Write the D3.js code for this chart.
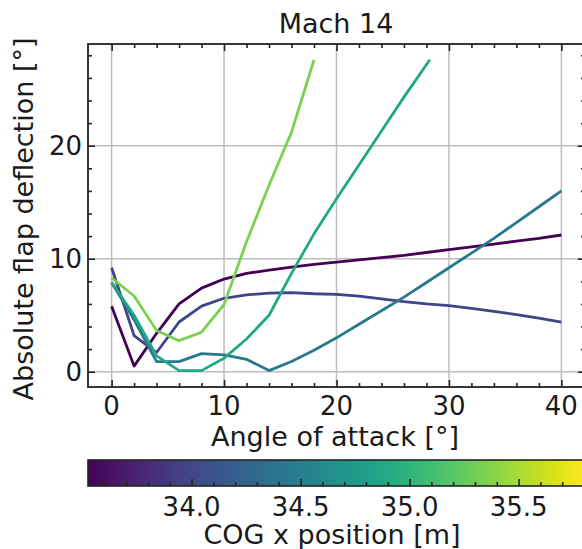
<!DOCTYPE html>
<html lang="en">
<head>
    <meta charset="utf-8" />
    <title>Mach 14</title>
    <script src="https://cdn.jsdelivr.net/npm/d3@7"></script>
    <style>
        body { margin: 0; background: #fff; }
        text { font-family: "DejaVu Sans", sans-serif; fill: #1a1a1a; }
        .grid line { stroke: #bdbdbd; stroke-width: 1.5px; }
        .series path { fill: none; stroke-width: 2.8px; stroke-linejoin: round; }
    </style>
</head>
<body>
<script>
    // data
    var cog = [33.525, 33.98, 34.435, 34.89, 35.345];
    var aoa1 = [0, 2, 4, 6, 8, 10, 12, 14, 16, 18, 20, 22, 24, 26, 28, 30, 32, 34, 36, 38, 40];
    var defl1 = [5.8, 0.5, 3.4, 6.0, 7.4, 8.2, 8.7, 9.0, 9.25, 9.5, 9.7, 9.9, 10.1, 10.3, 10.55, 10.8, 11.05, 11.3, 11.55, 11.8, 12.1];
    var aoa2 = aoa1;
    var defl2 = [9.2, 3.2, 1.7, 4.4, 5.8, 6.5, 6.8, 6.95, 7.0, 6.9, 6.85, 6.7, 6.45, 6.2, 6.0, 5.85, 5.6, 5.35, 5.05, 4.75, 4.4];
    var aoa3 = aoa1;
    var defl3 = [7.9, 4.6, 0.9, 0.9, 1.6, 1.5, 1.1, 0.1, 0.9, 1.9, 3.0, 4.2, 5.4, 6.6, 7.9, 9.2, 10.5, 11.8, 13.2, 14.6, 16.0];
    var aoa4 = [0, 2, 4, 6, 8, 10, 12, 14, 16, 18, 20, 22, 24, 26, 28.3];
    var defl4 = [7.9, 5.0, 1.4, 0.1, 0.1, 1.2, 2.9, 5.0, 8.7, 12.2, 15.3, 18.3, 21.3, 24.3, 27.6];
    var aoa5 = [0, 2, 4, 6, 8, 10, 12, 14, 16, 18];
    var defl5 = [8.3, 6.7, 3.65, 2.75, 3.5, 5.95, 11.5, 16.5, 21.2, 27.6];

    var xTicks = [0, 10, 20, 30, 40];
    var yTicks = [0, 10, 20];
    var cbTicks = [34.0, 34.5, 35.0, 35.5];
    var cbDomain = [33.525, 35.8];

    var series = [
        { aoa: aoa1, defl: defl1, cog: cog[0] },
        { aoa: aoa2, defl: defl2, cog: cog[1] },
        { aoa: aoa3, defl: defl3, cog: cog[2] },
        { aoa: aoa4, defl: defl4, cog: cog[3] },
        { aoa: aoa5, defl: defl5, cog: cog[4] }
    ];

    var width = 582, height = 549;
    var svg = d3.select("body").append("svg")
        .attr("width", width)
        .attr("height", height);

    // plot area (names avoid window.top)
    var pL = 88, pR = 585, pT = 44, pB = 387;
    var x = d3.scaleLinear().domain([-2.1, 42.1]).range([pL, pR]);
    var y = d3.scaleLinear().domain([-1.35, 29.0]).range([pB, pT]);
    var color = d3.scaleSequential(d3.interpolateViridis).domain(cbDomain);

    // grid
    var grid = svg.append("g").attr("class", "grid");
    grid.selectAll(".gx").data(xTicks).enter().append("line")
        .attr("x1", function (d) { return x(d); }).attr("x2", function (d) { return x(d); })
        .attr("y1", pT).attr("y2", pB);
    grid.selectAll(".gy").data(yTicks).enter().append("line")
        .attr("y1", function (d) { return y(d); }).attr("y2", function (d) { return y(d); })
        .attr("x1", pL).attr("x2", pR);

    // lines
    var line = d3.line()
        .x(function (d) { return x(d[0]); })
        .y(function (d) { return y(d[1]); });
    svg.append("g").attr("class", "series")
        .selectAll("path")
        .data(series)
        .enter().append("path")
        .attr("stroke", function (d) { return color(d.cog); })
        .attr("d", function (d) { return line(d3.zip(d.aoa, d.defl)); });

    // axes: ticks inward on all four sides
    var xMinor = d3.range(0, 42, 2).filter(function (v) { return v % 10 != 0; });
    var yMinor = d3.range(0, 30, 2).filter(function (v) { return v % 10 != 0; });
    function inward(axis, size) { return axis.tickSize(-size).tickFormat("").tickSizeOuter(0); }

    var axes = svg.append("g").attr("class", "axes");
    axes.append("g").attr("transform", "translate(0," + pB + ")").call(inward(d3.axisBottom(x).tickValues(xTicks), 7));
    axes.append("g").attr("transform", "translate(0," + pB + ")").call(inward(d3.axisBottom(x).tickValues(xMinor), 4));
    axes.append("g").attr("transform", "translate(0," + pT + ")").call(inward(d3.axisTop(x).tickValues(xTicks), 7));
    axes.append("g").attr("transform", "translate(0," + pT + ")").call(inward(d3.axisTop(x).tickValues(xMinor), 4));
    axes.append("g").attr("transform", "translate(" + pL + ",0)").call(inward(d3.axisLeft(y).tickValues(yTicks), 7));
    axes.append("g").attr("transform", "translate(" + pL + ",0)").call(inward(d3.axisLeft(y).tickValues(yMinor), 4));
    axes.append("g").attr("transform", "translate(" + pR + ",0)").call(inward(d3.axisRight(y).tickValues(yTicks), 7));
    axes.append("g").attr("transform", "translate(" + pR + ",0)").call(inward(d3.axisRight(y).tickValues(yMinor), 4));
    axes.selectAll(".domain").remove();
    axes.selectAll("line").attr("stroke", "#222").attr("stroke-width", 1.6);

    svg.append("rect")
        .attr("x", pL).attr("y", pT)
        .attr("width", pR - pL).attr("height", pB - pT)
        .attr("fill", "none").attr("stroke", "#222").attr("stroke-width", 1.8);

    // tick labels
    svg.selectAll(".xl").data(xTicks).enter().append("text")
        .attr("x", function (d) { return x(d); })
        .attr("y", 415)
        .attr("text-anchor", "middle")
        .style("font-size", "26px")
        .text(function (d) { return d; });
    svg.selectAll(".yl").data(yTicks).enter().append("text")
        .attr("x", 82)
        .attr("y", function (d) { return y(d); })
        .attr("dy", "0.36em")
        .attr("text-anchor", "end")
        .style("font-size", "26px")
        .text(function (d) { return d; });

    // titles
    svg.append("text").attr("x", 336).attr("y", 33).attr("text-anchor", "middle")
        .style("font-size", "27px").text("Mach 14");
    svg.append("text").attr("x", 335).attr("y", 446).attr("text-anchor", "middle")
        .style("font-size", "27px").text("Angle of attack [°]");
    svg.append("text").attr("transform", "translate(33,219) rotate(-90)").attr("text-anchor", "middle")
        .style("font-size", "27px").text("Absolute flap deflection [°]");

    // colorbar
    var cbTop = 460, cbBottom = 486;
    var cx = d3.scaleLinear().domain(cbDomain).range([pL, pR - 1]);
    var grad = svg.append("defs").append("linearGradient").attr("id", "viridis");
    d3.range(0, 1.0001, 0.05).forEach(function (t) {
        grad.append("stop").attr("offset", t).attr("stop-color", d3.interpolateViridis(t));
    });
    svg.append("rect")
        .attr("x", cx.range()[0]).attr("y", cbTop)
        .attr("width", cx.range()[1] - cx.range()[0]).attr("height", cbBottom - cbTop)
        .attr("fill", "url(#viridis)");

    var cbMinor = d3.range(33.6, 35.8, 0.1).filter(function (v) {
        return Math.abs(v * 2 - Math.round(v * 2)) > 0.01;
    });
    var cbAxes = svg.append("g");
    cbAxes.append("g").attr("transform", "translate(0," + cbBottom + ")").call(inward(d3.axisBottom(cx).tickValues(cbTicks), 7));
    cbAxes.append("g").attr("transform", "translate(0," + cbBottom + ")").call(inward(d3.axisBottom(cx).tickValues(cbMinor), 4));
    cbAxes.selectAll(".domain").remove();
    cbAxes.selectAll("line").attr("stroke", "#222").attr("stroke-width", 1.6);
    svg.append("rect")
        .attr("x", cx.range()[0]).attr("y", cbTop)
        .attr("width", cx.range()[1] - cx.range()[0]).attr("height", cbBottom - cbTop)
        .attr("fill", "none").attr("stroke", "#222").attr("stroke-width", 1.6);

    svg.selectAll(".cl").data(cbTicks).enter().append("text")
        .attr("x", function (d) { return cx(d); })
        .attr("y", 516)
        .attr("text-anchor", "middle")
        .style("font-size", "26px")
        .text(function (d) { return d.toFixed(1); });
    svg.append("text").attr("x", 332).attr("y", 544).attr("text-anchor", "middle")
        .style("font-size", "27px").text("COG x position [m]");
</script>
</body>
</html>
